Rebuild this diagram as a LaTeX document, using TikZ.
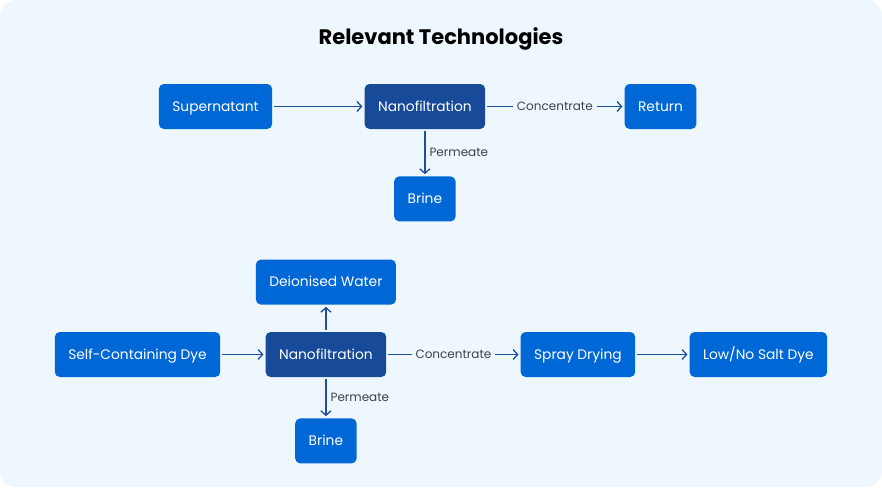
\documentclass[tikz,border=0pt]{standalone}
\usepackage{fontspec}
\setmainfont{Poppins}
\usetikzlibrary{arrows.meta, positioning}

\definecolor{bgpanel}{HTML}{EEF7FE}
\definecolor{boxblue}{HTML}{0068D6}
\definecolor{boxdark}{HTML}{174A98}
\definecolor{linkblue}{HTML}{1D4F9E}
\definecolor{labelgray}{HTML}{3B4250}

\begin{document}
\begin{tikzpicture}[
    x=1pt, y=1pt,
    >={Straight Barb[length=4.5pt,width=10pt]},
    node distance=47pt and 92pt,
    stage/.style={
        fill=boxblue,
        text=white,
        rounded corners=5pt,
        minimum height=45pt,
        inner xsep=13.5pt,
        text height=10.5pt,
        text depth=1.5pt,
        font=\fontsize{13.8}{16}\selectfont
    },
    core/.style={stage, fill=boxdark},
    flow/.style={->, linkblue, line width=1.3pt, shorten <=2pt, shorten >=2pt},
    tag/.style={text=labelgray, inner xsep=4pt, font=\fontsize{12}{14}\selectfont}
]
% panel
\path[use as bounding box, fill=bgpanel, rounded corners=16pt] (0,0) rectangle (882,-487);
\node[font=\fontsize{21}{25}\selectfont\bfseries] (title) at (441,-39) {Relevant Technologies};

% upper chain
\node[stage] (super) at (215.5,-106.5) {Supernatant};
\node[core, right=92pt of super] (nanoA) {Nanofiltration};
\node[stage, right=139pt of nanoA] (ret) {Return};
\node[stage, below=47pt of nanoA] (brineA) {Brine};

\draw[flow] (super) -- (nanoA);
\draw[flow] (nanoA) -- node[tag, fill=bgpanel] {Concentrate} (ret);
\draw[flow] (nanoA) -- node[tag, right] {Permeate} (brineA);

% lower chain
\node[stage] (dye) at (137.5,-354.5) {Self-Containing Dye};
\node[core, right=45pt of dye] (nanoB) {Nanofiltration};
\node[stage, right=134pt of nanoB] (spray) {Spray Drying};
\node[stage, right=54pt of spray] (lowsalt) {Low/No Salt Dye};
\node[stage, above=27pt of nanoB] (water) {Deionised Water};
\node[stage, below=41pt of nanoB] (brineB) {Brine};

\draw[flow] (dye) -- (nanoB);
\draw[flow] (nanoB) -- node[tag, fill=bgpanel] {Concentrate} (spray);
\draw[flow] (spray) -- (lowsalt);
\draw[flow] (nanoB) -- (water);
\draw[flow] (nanoB) -- node[tag, right] {Permeate} (brineB);
\end{tikzpicture}
\end{document}
